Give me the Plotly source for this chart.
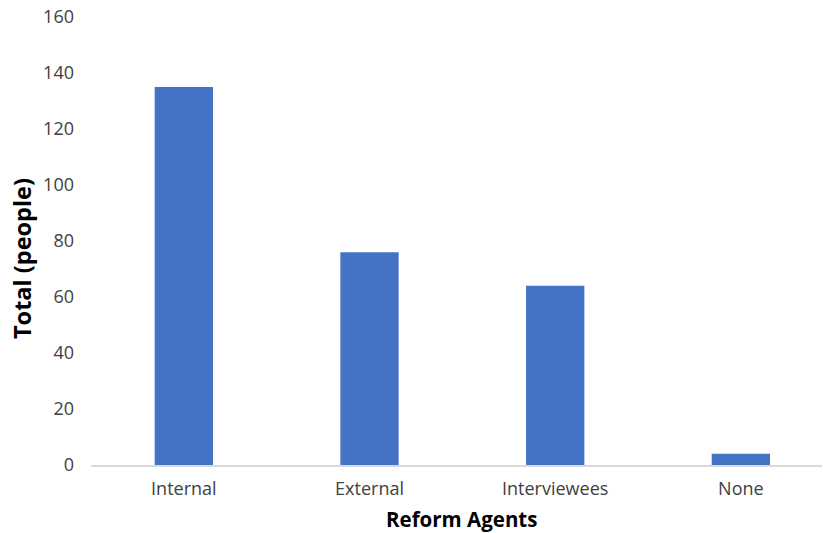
import plotly.graph_objects as go

categories = ["Internal", "External", "Interviewees", "None"]
totals = [135, 76, 64, 4]
y_ticks = [0, 20, 40, 60, 80, 100, 120, 140, 160]
x_title = "Reform Agents"
y_title = "Total (people)"

fig = go.Figure(
    go.Bar(
        x=list(range(len(categories))),
        y=totals,
        width=0.314,
        marker=dict(color="#4472C4", line=dict(width=0)),
    )
)

tick_font = dict(family="Open Sans, sans-serif", size=18, color="#404040")

fig.update_layout(
    width=823,
    height=533,
    margin=dict(l=91, r=1, t=17, b=68),
    paper_bgcolor="white",
    plot_bgcolor="white",
    showlegend=False,
    xaxis=dict(
        range=[-0.5, 3.437],
        tickmode="array",
        tickvals=list(range(len(categories))),
        ticktext=categories,
        tickfont=tick_font,
        showgrid=False,
        zeroline=False,
        showline=True,
        linecolor="#d9d9d9",
        linewidth=2,
        ticks="",
        ticklabelstandoff=6,
    ),
    yaxis=dict(
        range=[0, 160],
        tickmode="array",
        tickvals=y_ticks,
        tickfont=tick_font,
        showgrid=False,
        zeroline=False,
        showline=False,
        ticks="",
        ticklabelstandoff=16,
    ),
    annotations=[
        dict(
            text=f"<b>{x_title}</b>",
            xref="paper", yref="paper",
            x=0.507, y=-0.1205,
            xanchor="center", yanchor="middle",
            showarrow=False,
            font=dict(family="Open Sans, sans-serif", size=20.5, color="#000000"),
        ),
        dict(
            text=f"<b>{y_title}</b>",
            xref="paper", yref="paper",
            x=-0.0944, y=0.462,
            xanchor="center", yanchor="middle",
            textangle=-90,
            showarrow=False,
            font=dict(family="Open Sans, sans-serif", size=23.5, color="#000000"),
        ),
    ],
)

fig.write_html("out.html")
